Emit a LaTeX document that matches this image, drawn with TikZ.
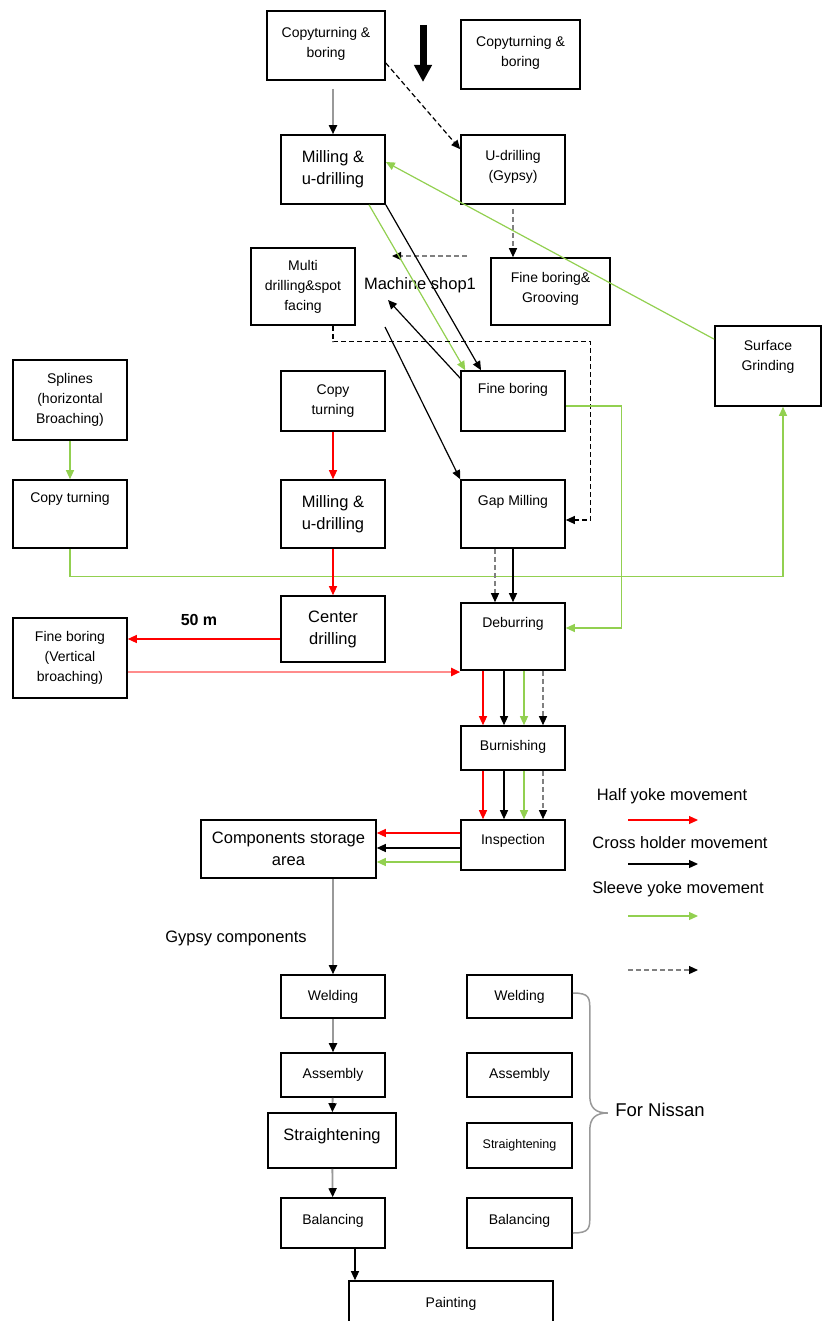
\documentclass[tikz,border=0pt]{standalone}
\usepackage{fontspec}
\setmainfont{Liberation Sans}
\usetikzlibrary{arrows.meta}
\definecolor{sleeve}{RGB}{146,208,80}
\definecolor{halfpale}{RGB}{255,140,140}

\begin{document}
\begin{tikzpicture}
  [x=1pt,y=-1pt,
   box/.style={draw,line width=1.6pt,align=center,inner sep=1pt,font=\fontsize{14}{20}\selectfont},
   bigbox/.style={box,font=\fontsize{16.5}{22}\selectfont},
   txtup/.style={text depth=#1},
   lbl/.style={font=\fontsize{16.5}{20}\selectfont},
   flow/.style={line width=1.2pt,-{Triangle[length=9pt,width=8pt]}},
   half/.style={flow,red},
   pale/.style={flow,line width=2pt,draw=halfpale,-{Triangle[length=9pt,width=8pt,color=red]}},
   cross/.style={flow,black},
   sleeveyoke/.style={flow,sleeve},
   dgrey/.style={flow,draw=gray,dash pattern=on 5pt off 3pt,-{Triangle[length=9pt,width=8pt,color=black]}},
   dblack/.style={flow,black,dash pattern=on 5pt off 3pt},
   grey/.style={flow,line width=1.8pt,draw=gray!80,-{Triangle[length=9pt,width=8pt,color=black]}}]

  \useasboundingbox (0,0) rectangle (822,1321);

  \node[box,minimum width=118pt,minimum height=69pt,txtup=6pt] (n1) at (326,45.5) {Copyturning \&\\boring};
  \node[box,minimum width=119pt,minimum height=69pt,txtup=6pt] (n2) at (520.5,54.5) {Copyturning \&\\boring};
  \node[bigbox,minimum width=104pt,minimum height=69pt] (n3) at (333,169.5) {Milling \&\\u-drilling};
  \node[box,minimum width=104pt,minimum height=69pt,txtup=9pt] (n4) at (513,169.5) {U-drilling\\(Gypsy)};
  \node[box,minimum width=104pt,minimum height=77pt] (n5) at (303,286.5) {Multi\\drilling\&spot\\facing};
  \node[box,minimum width=119pt,minimum height=67pt,txtup=8pt] (n6) at (550.5,291.5) {Fine boring\&\\Grooving};
  \node[box,minimum width=106pt,minimum height=80pt,txtup=21pt] (n7) at (768,366) {Surface\\Grinding};
  \node[box,minimum width=114pt,minimum height=80pt] (n8) at (70,400) {Splines\\(horizontal\\Broaching)};
  \node[box,minimum width=104pt,minimum height=60pt] (n9) at (333,401) {Copy\\turning};
  \node[box,minimum width=104pt,minimum height=60pt,txtup=26pt] (n10) at (513,401) {Fine boring};
  \node[box,minimum width=114pt,minimum height=68pt,txtup=34pt] (n11) at (70,514) {Copy turning};
  \node[bigbox,minimum width=104pt,minimum height=68pt] (n12) at (333,514) {Milling \&\\u-drilling};
  \node[box,minimum width=104pt,minimum height=68pt,txtup=28pt] (n13) at (513,514) {Gap Milling};
  \node[bigbox,minimum width=104pt,minimum height=66pt] (n14) at (333,629) {Center\\drilling};
  \node[box,minimum width=114pt,minimum height=80pt] (n15) at (70,658) {Fine boring\\(Vertical\\broaching)};
  \node[box,minimum width=104pt,minimum height=67pt,txtup=29pt] (n16) at (513,636.5) {Deburring};
  \node[box,minimum width=104pt,minimum height=44pt,txtup=6pt] (n17) at (513,748) {Burnishing};
  \node[box,minimum width=104pt,minimum height=50pt,txtup=12pt] (n18) at (513,845) {Inspection};
  \node[bigbox,minimum width=175pt,minimum height=58pt] (n19) at (288.5,849) {Components storage\\area};
  \node[box,minimum width=104pt,minimum height=43pt] (n20) at (333,996.5) {Welding};
  \node[box,minimum width=104pt,minimum height=44pt] (n21) at (333,1075) {Assembly};
  \node[bigbox,minimum width=128pt,minimum height=55pt,txtup=11pt] (n22) at (332,1140.5) {Straightening};
  \node[box,minimum width=104pt,minimum height=50pt,txtup=8pt] (n23) at (333,1223) {Balancing};
  \node[box,minimum width=204pt,minimum height=60pt,txtup=18pt] (n24) at (451,1311) {Painting};
  \node[box,minimum width=105pt,minimum height=43pt] (n25) at (519.5,996.5) {Welding};
  \node[box,minimum width=105pt,minimum height=44pt] (n26) at (519.5,1075) {Assembly};
  \node[box,minimum width=105pt,minimum height=45pt,font=\fontsize{12.5}{15}\selectfont] (n27) at (519.5,1145.5) {Straightening};
  \node[box,minimum width=105pt,minimum height=50pt,txtup=8pt] (n28) at (519.5,1223) {Balancing};

  \node[lbl] (n29) at (420,285) {Machine shop1};
  \node[lbl,font=\bfseries\fontsize{16}{20}\selectfont] (n30) at (199,620) {50 m};
  \node[lbl] (n31) at (236,938) {Gypsy components};
  \node[lbl] (n32) at (672,796) {Half yoke movement};
  \node[lbl] (n33) at (680,843) {Cross holder movement};
  \node[lbl] (n34) at (678,889) {Sleeve yoke movement};
  \node[font=\fontsize{18.5}{22}\selectfont] (n35) at (660,1110) {For Nissan};

  \coordinate (c1) at (423,25);
  \coordinate (c2) at (423,82);
  \draw[line width=7pt,-{Triangle[length=17pt,width=17pt]}] (c1) -- (c2);

  \draw[grey] ([yshift=-8pt]n1.south -| n3.north) -- (n3.north);
  \draw[dblack] ([yshift=-17.5pt]n1.east) -- ([yshift=-15pt]n4.north west);
  \draw[dgrey] ([yshift=-4pt]n4.south) -- (n4.south |- n6.north);
  \draw[dgrey] ([xshift=47pt,yshift=29pt]n29.center) -- ([xshift=-28pt,yshift=29pt]n29.center);
  \draw[sleeveyoke] ([xshift=36pt]n3.south) -- ([xshift=5pt]n10.north west);
  \draw[cross] (n3.south east) -- ([xshift=-32pt]n10.north);
  \draw[sleeveyoke] ([yshift=-14pt]n7.north west) -- ([yshift=7.5pt]n3.east);
  \draw[cross] ([yshift=-8pt]n10.north west) -- ([xshift=-32pt,yshift=-15pt]n29.center);
  \draw[cross] ([xshift=-35pt,yshift=-42pt]n29.center) -- (n13.north west);
  \draw[dblack] ([xshift=30pt]n5.south) -- ++(0,16) -| ([xshift=25pt,yshift=-6pt]n13.east) -- ([yshift=-6pt]n13.east);
  \draw[sleeveyoke] ([yshift=-5pt]n10.east) -- ++(56,0) |- ([yshift=8.5pt]n16.east);
  \draw[sleeveyoke] (n11.south) -- ++(0,28) -| ([xshift=15pt]n7.south);
  \draw[sleeveyoke] (n8) -- (n11);
  \draw[dgrey] ([xshift=-18pt]n13.south) -- ([xshift=-18pt]n16.north);
  \draw[cross] (n13.south) -- (n16.north);
  \foreach \from/\to in {n9/n12,n12/n14}
    \draw[half] (\from) -- (\to);
  \draw[half] ([yshift=-10pt]n14.west) -- ([yshift=-10pt]n14.west -| n15.east);
  \draw[pale] ([yshift=-14pt]n15.east) -- ([yshift=-14pt]n15.east -| n16.west);
  \foreach \dx/\st in {-30/half,-9/cross,11/sleeveyoke,30/dgrey} {
    \draw[\st] ([xshift=\dx pt]n16.south) -- ([xshift=\dx pt]n17.north);
    \draw[\st] ([xshift=\dx pt]n17.south) -- ([xshift=\dx pt]n18.north);
  }
  \foreach \dy/\st in {12/half,-3/cross,-17/sleeveyoke}
    \draw[\st] ([yshift=\dy pt]n18.west) -- ([yshift=\dy pt]n18.west -| n19.east);
  \draw[grey] (n19.south -| n20.north) -- (n20.north);
  \foreach \from/\to in {n20/n21,n21/n22,n22/n23}
    \draw[grey] (\from) -- (\to);
  \draw[cross] ([xshift=22pt]n23.south) -- ([xshift=22pt]n23.south |- n24.north);

  \draw[gray!80,line width=1.5pt] ([yshift=3.5pt]n25.east)
    .. controls +(17,0) and +(0,-12) .. ++(17,17) -- ++(0,86)
    .. controls +(0,12) and +(-12,0) .. ++(18,17)
    .. controls +(-12,0) and +(0,-12) .. ++(-18,17) -- ++(0,86)
    .. controls +(0,12) and +(17,0) .. ++(-17,17);

  \draw[half] ([xshift=-44pt,yshift=-24pt]n32.center) -- ++(70,0);
  \draw[cross] ([xshift=-52pt,yshift=-21pt]n33.center) -- ++(70,0);
  \draw[sleeveyoke] ([xshift=-50pt,yshift=-27pt]n34.center) -- ++(70,0);
  \draw[dgrey] ([xshift=-50pt,yshift=-81pt]n34.center) -- ++(70,0);
\end{tikzpicture}
\end{document}
